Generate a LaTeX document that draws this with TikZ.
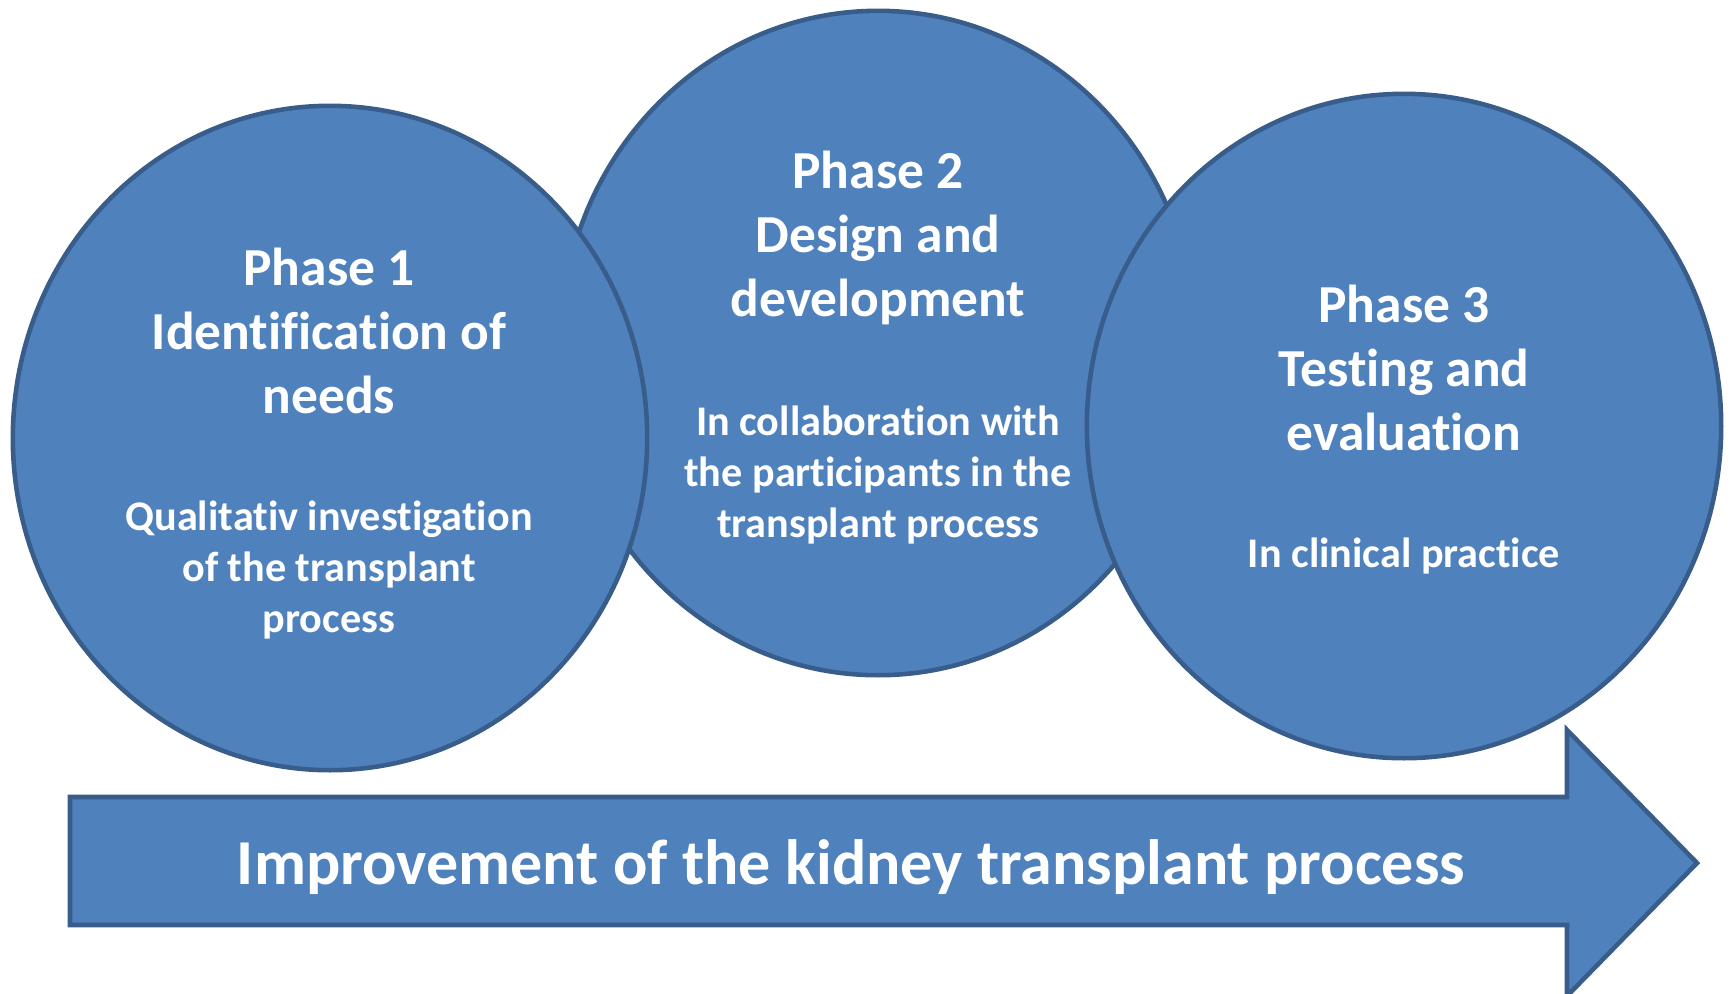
\documentclass[tikz,border=0pt]{standalone}
\usepackage{fontspec}
\setmainfont{Carlito}[Ligatures=NoCommon]
\usetikzlibrary{shapes.geometric, positioning}
\definecolor{phasefill}{RGB}{79,129,189}
\definecolor{phaseline}{RGB}{56,93,138}
\tikzset{
  phase/.style={ellipse, draw=phaseline, fill=phasefill, line width=1.3pt,
    minimum width=6.34cm, minimum height=6.64cm, inner sep=0pt},
  phasetitle/.style={text=white, align=center,
    font=\fontsize{15.2}{18.1}\selectfont\bfseries},
  phasetext/.style={text=white, align=center,
    font=\fontsize{12}{14.5}\selectfont\bfseries},
}

\begin{document}
\begin{tikzpicture}[x=0.01cm, y=-0.01cm]
    \useasboundingbox (0,0) rectangle (1731,993);

    % Phases (middle one sits behind)
    \node[phase] (p2) at (878,343) {};
    \node[phase] (p1) at (330,438) {};
    \node[phase] (p3) at (1404,426) {};

    % Phase 1
    \node[phasetitle] (p1title) at (329,331) {Phase 1\\Identification of\\needs};
    \node[phasetext] (p1text) at (329,570) {Qualitativ investigation\\of the transplant\\process};

    % Phase 2
    \node[phasetitle] (p2title) at (878,238) {Phase 2\\Design and\\development};
    \node[phasetext] (p2text) at (878,475) {In collaboration with\\the participants in the\\transplant process};

    % Phase 3
    \node[phasetitle] (p3title) at (1404,368) {Phase 3\\Testing and\\evaluation};
    \node[phasetext] (p3text) at (1404,556) {In clinical practice};

    % Improvement arrow
    \draw[fill=phasefill, draw=phaseline, line width=1.3pt]
        (70,797) -- (1567,797) -- (1567,730) -- (1697,863)
        -- (1567,996) -- (1567,925) -- (70,925) -- cycle;
    \node[text=white, font=\fontsize{18.2}{22}\selectfont\bfseries] (goal) at (851,867)
        {Improvement of the kidney transplant process};
\end{tikzpicture}
\end{document}
